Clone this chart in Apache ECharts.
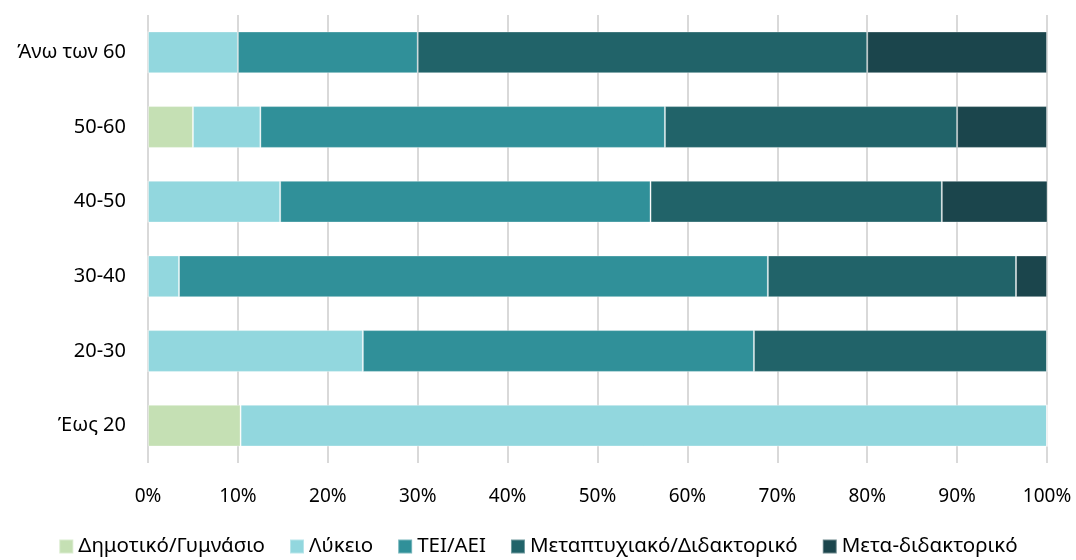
<!DOCTYPE html>
<html>
<head>
<meta charset="utf-8">
<script src="https://cdn.jsdelivr.net/npm/echarts@6/dist/echarts.min.js"></script>
<style>
  html, body { margin: 0; padding: 0; background: #fff; }
  #chart { width: 1076px; height: 560px; }
</style>
</head>
<body>
<div id="chart"></div>
<script>
// Age groups, bottom to top
const ageGroups = ['Έως 20', '20-30', '30-40', '40-50', '50-60', 'Άνω των 60'];

// Education level shares (%) per age group
const dimotiko    = [10.3, 0,    0,    0,    5,    0];
const lykeio      = [89.7, 23.9, 3.45, 14.7, 7.5,  10];
const teiAei      = [0,    43.5, 65.5, 41.2, 45,   20];
const metaptyxiako= [0,    32.6, 27.6, 32.4, 32.5, 50];
const metaDidakt  = [0,    0,    3.45, 11.8, 10,   20];

const seriesNames = ['Δημοτικό/Γυμνάσιο', 'Λύκειο', 'ΤΕΙ/ΑΕΙ', 'Μεταπτυχιακό/Διδακτορικό', 'Μετα-διδακτορικό'];
const seriesData = [dimotiko, lykeio, teiAei, metaptyxiako, metaDidakt];
const colors = ['#c5e0b4', '#92d7de', '#309099', '#216369', '#1b454c'];

const xTicks = [0, 10, 20, 30, 40, 50, 60, 70, 80, 90, 100];

const font = '"Noto Sans", "DejaVu Sans", sans-serif';

const chart = echarts.init(document.getElementById('chart'));
chart.setOption({
  animation: false,
  color: colors,
  textStyle: { fontFamily: font },
  grid: { left: 148, right: 29, top: 15, bottom: 97, containLabel: false },
  legend: {
    bottom: -2,
    left: 'center',
    itemWidth: 14,
    itemHeight: 14,
    itemGap: 24,
    icon: 'rect',
    textStyle: { fontSize: 20.5, color: '#000', fontFamily: font },
    data: seriesNames
  },
  xAxis: {
    type: 'value',
    min: xTicks[0],
    max: xTicks[xTicks.length - 1],
    interval: 10,
    axisLine: { show: false },
    axisTick: { show: false },
    splitLine: { show: true, lineStyle: { color: '#d9d9d9', width: 2 } },
    axisLabel: {
      margin: 24,
      fontSize: 19,
      color: '#000',
      fontFamily: font,
      formatter: v => v + '%'
    }
  },
  yAxis: {
    type: 'category',
    data: ageGroups,
    axisLine: { show: false },
    axisTick: { show: false },
    axisLabel: { margin: 22, fontSize: 20, color: '#000', fontFamily: font }
  },
  series: seriesData.map((d, i) => ({
    name: seriesNames[i],
    type: 'bar',
    stack: 'total',
    barWidth: '56%',
    data: d,
    itemStyle: { color: colors[i], borderColor: 'rgba(255,255,255,0.35)', borderWidth: 1 }
  }))
});
</script>
</body>
</html>
